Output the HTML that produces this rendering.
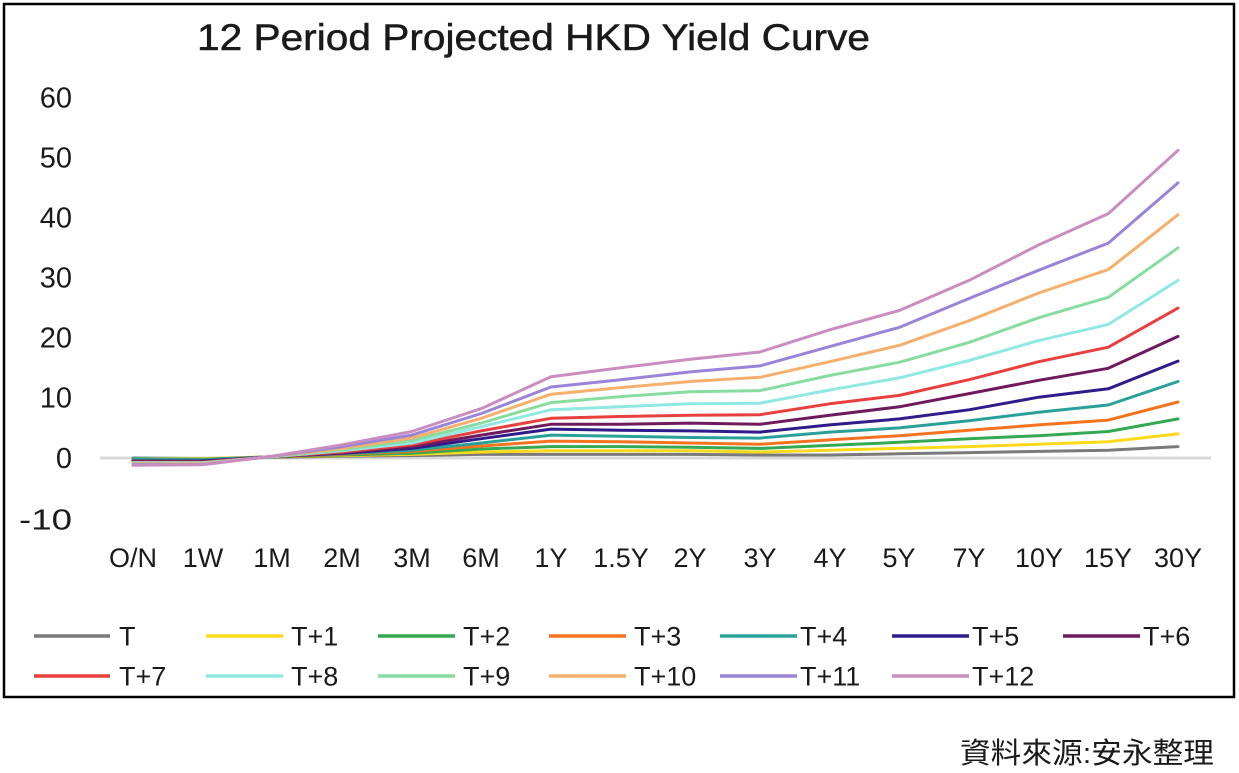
<!DOCTYPE html>
<html>
<head>
<meta charset="utf-8">
<style>
  html, body { margin: 0; padding: 0; background: #ffffff; }
  body { width: 1239px; height: 773px; overflow: hidden; }
  svg { display: block; }
  text { font-family: "Liberation Sans", "Noto Sans CJK TC", sans-serif; fill: #1a1a1a; }
</style>
</head>
<body>
<svg width="1239" height="773" viewBox="0 0 1239 773" xmlns="http://www.w3.org/2000/svg">
  <rect x="0" y="0" width="1239" height="773" fill="#ffffff"/>
  <!-- chart border -->
  <rect x="4" y="4" width="1230" height="693" fill="none" stroke="#000000" stroke-width="2.5"/>

  <!-- title -->
  <text x="197" y="50" font-size="37" textLength="673" lengthAdjust="spacingAndGlyphs" stroke="#1a1a1a" stroke-width="0.5">12 Period Projected HKD Yield Curve</text>

  <!-- y axis labels -->
  <g font-size="29" text-anchor="end">
    <text x="72" y="107.5">60</text>
    <text x="72" y="167.5">50</text>
    <text x="72" y="227.5">40</text>
    <text x="72" y="287.5">30</text>
    <text x="72" y="347.5">20</text>
    <text x="72" y="407.5">10</text>
    <text x="72" y="468">0</text>
    <text x="72" y="529.5" textLength="53" lengthAdjust="spacingAndGlyphs">-10</text>
  </g>

  <!-- zero gridline -->
  <line x1="100" y1="458" x2="1211" y2="458" stroke="#d9d9d9" stroke-width="3"/>

  <!-- x axis labels -->
  <g font-size="27" text-anchor="middle">
    <text x="133" y="567">O/N</text>
    <text x="203" y="567">1W</text>
    <text x="272" y="567">1M</text>
    <text x="342" y="567">2M</text>
    <text x="412" y="567">3M</text>
    <text x="481" y="567">6M</text>
    <text x="551" y="567">1Y</text>
    <text x="621" y="567">1.5Y</text>
    <text x="690" y="567">2Y</text>
    <text x="760" y="567">3Y</text>
    <text x="830" y="567">4Y</text>
    <text x="899" y="567">5Y</text>
    <text x="969" y="567">7Y</text>
    <text x="1039" y="567">10Y</text>
    <text x="1108" y="567">15Y</text>
    <text x="1178" y="567">30Y</text>
  </g>

  <!-- series -->
  <g fill="none" stroke-width="3" stroke-linejoin="round" stroke-linecap="round">
    <polyline stroke="#7a7a7a" points="133,458 202.7,458.6 272.3,457.4 342,456.2 411.7,455.6 481.3,454.4 551,454.4 620.7,454.4 690.3,454.4 760,455 829.7,455 899.3,453.8 969,452.6 1038.7,451.4 1108.3,450.2 1178,446.6"/>
    <polyline stroke="#ffd91a" points="133,458.6 202.7,458.6 272.3,456.8 342,455.6 411.7,454.4 481.3,452 551,450.8 620.7,450.8 690.3,450.8 760,452 829.7,450.2 899.3,448.4 969,446.6 1038.7,444.2 1108.3,441.7 1178,433.9"/>
    <polyline stroke="#34a853" points="133,459.2 202.7,459.2 272.3,456.8 342,455 411.7,453.2 481.3,449 551,446.6 620.7,446.6 690.3,447.2 760,448.4 829.7,445.4 899.3,442.3 969,438.7 1038.7,435.7 1108.3,431.5 1178,418.9"/>
    <polyline stroke="#f4731f" points="133,459.8 202.7,459.8 272.3,456.8 342,454.4 411.7,451.4 481.3,446 551,441.1 620.7,441.7 690.3,443 760,444.2 829.7,439.9 899.3,435.7 969,430.3 1038.7,424.9 1108.3,420.1 1178,402"/>
    <polyline stroke="#2aa198" points="133,458.6 202.7,459.8 272.3,456.8 342,453.8 411.7,450.2 481.3,443 551,435.1 620.7,436.3 690.3,437.5 760,438.1 829.7,432.1 899.3,427.9 969,420.7 1038.7,412.2 1108.3,405 1178,381.5"/>
    <polyline stroke="#2f1b8a" points="133,461 202.7,461 272.3,456.8 342,453.2 411.7,448.4 481.3,438.7 551,429.1 620.7,430.3 690.3,430.9 760,432.1 829.7,424.9 899.3,418.9 969,409.8 1038.7,397.2 1108.3,388.8 1178,361.1"/>
    <polyline stroke="#701a5e" points="133,461 202.7,461.6 272.3,456.8 342,452.6 411.7,446.6 481.3,435.1 551,424.3 620.7,424.3 690.3,423.1 760,424.3 829.7,415.3 899.3,406.8 969,393.6 1038.7,380.3 1108.3,368.3 1178,336.4"/>
    <polyline stroke="#e8403e" points="133,462.2 202.7,462.2 272.3,456.8 342,452 411.7,444.8 481.3,430.9 551,418.3 620.7,416.5 690.3,415.3 760,414.7 829.7,403.8 899.3,395.4 969,379.7 1038.7,361.7 1108.3,347.2 1178,308.1"/>
    <polyline stroke="#90e8e2" points="133,462.8 202.7,462.8 272.3,456.8 342,450.8 411.7,443 481.3,426.7 551,409.8 620.7,406.8 690.3,403.8 760,403.2 829.7,390 899.3,377.9 969,360.5 1038.7,340.6 1108.3,324.4 1178,280.4"/>
    <polyline stroke="#88dca0" points="133,463.4 202.7,463.4 272.3,456.8 342,449.6 411.7,440.5 481.3,423.1 551,402.6 620.7,396.6 690.3,391.8 760,390.6 829.7,375.5 899.3,362.3 969,342.4 1038.7,317.7 1108.3,297.3 1178,247.9"/>
    <polyline stroke="#f6b06e" points="133,464 202.7,464 272.3,456.2 342,448.4 411.7,438.1 481.3,418.3 551,394.2 620.7,387.6 690.3,381.5 760,377.3 829.7,361.7 899.3,345.4 969,320.7 1038.7,293 1108.3,269.6 1178,214.8"/>
    <polyline stroke="#9a84d8" points="133,464.6 202.7,464.6 272.3,456.2 342,446.6 411.7,435.1 481.3,413.5 551,387 620.7,379.7 690.3,371.9 760,365.9 829.7,346.6 899.3,327.4 969,298.5 1038.7,270.2 1108.3,243.1 1178,182.9"/>
    <polyline stroke="#c98dc0" points="133,465.2 202.7,464.6 272.3,456.2 342,444.8 411.7,431.5 481.3,408.6 551,376.7 620.7,367.7 690.3,359.3 760,352 829.7,329.8 899.3,310.5 969,280.4 1038.7,244.9 1108.3,213.6 1178,150.4"/>
  </g>

  <!-- legend -->
  <g stroke-width="3.5" stroke-linecap="butt">
    <line x1="34" y1="636" x2="110" y2="636" stroke="#7a7a7a"/>
    <line x1="206" y1="636" x2="283" y2="636" stroke="#ffd91a"/>
    <line x1="378" y1="636" x2="455" y2="636" stroke="#34a853"/>
    <line x1="549" y1="636" x2="626" y2="636" stroke="#f4731f"/>
    <line x1="720" y1="636" x2="797" y2="636" stroke="#2aa198"/>
    <line x1="892" y1="636" x2="969" y2="636" stroke="#2f1b8a"/>
    <line x1="1063" y1="636" x2="1140" y2="636" stroke="#701a5e"/>
    <line x1="34" y1="676" x2="110" y2="676" stroke="#e8403e"/>
    <line x1="206" y1="676" x2="283" y2="676" stroke="#90e8e2"/>
    <line x1="378" y1="676" x2="455" y2="676" stroke="#88dca0"/>
    <line x1="549" y1="676" x2="626" y2="676" stroke="#f6b06e"/>
    <line x1="720" y1="676" x2="797" y2="676" stroke="#9a84d8"/>
    <line x1="892" y1="676" x2="969" y2="676" stroke="#c98dc0"/>
  </g>
  <g font-size="27">
    <text x="119" y="645.5">T</text>
    <text x="291" y="645.5">T+1</text>
    <text x="463" y="645.5">T+2</text>
    <text x="634" y="645.5">T+3</text>
    <text x="800" y="645.5">T+4</text>
    <text x="972" y="645.5">T+5</text>
    <text x="1143" y="645.5">T+6</text>
    <text x="119" y="685.5">T+7</text>
    <text x="291" y="685.5">T+8</text>
    <text x="463" y="685.5">T+9</text>
    <text x="634" y="685.5">T+10</text>
    <text x="800" y="685.5">T+11</text>
    <text x="972" y="685.5">T+12</text>
  </g>

  <!-- source note -->
  <text x="960" y="763" font-size="29" textLength="254" lengthAdjust="spacingAndGlyphs" style="font-family: 'Liberation Sans', 'Noto Sans CJK TC', sans-serif;">資料來源:安永整理</text>
</svg>
</body>
</html>
